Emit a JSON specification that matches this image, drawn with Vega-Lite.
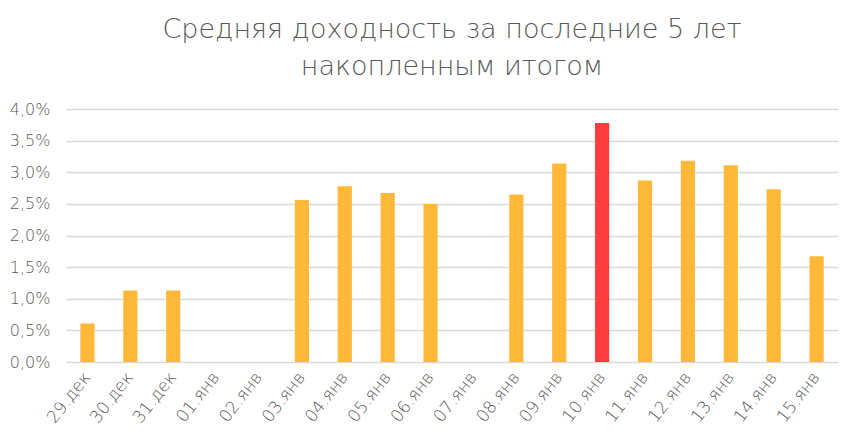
{
  "$schema": "https://vega.github.io/schema/vega-lite/v6.json",
  "width": 772,
  "height": 253,
  "autosize": {"type": "none"},
  "padding": {"left": 66, "top": 109, "right": 8, "bottom": 80},
  "background": "white",
  "title": {
    "text": ["Средняя доходность за последние 5 лет", "накопленным итогом"],
    "font": "DejaVu Sans",
    "fontSize": 27,
    "fontWeight": 200,
    "color": "#595959",
    "anchor": "middle",
    "lineHeight": 37,
    "offset": 20
  },
  "data": {
    "values": [
      {"date": "29.дек", "value": 0.0061, "hl": "n"},
      {"date": "30.дек", "value": 0.0113, "hl": "n"},
      {"date": "31.дек", "value": 0.0113, "hl": "n"},
      {"date": "01.янв", "value": null, "hl": "n"},
      {"date": "02.янв", "value": null, "hl": "n"},
      {"date": "03.янв", "value": 0.0256, "hl": "n"},
      {"date": "04.янв", "value": 0.0278, "hl": "n"},
      {"date": "05.янв", "value": 0.0267, "hl": "n"},
      {"date": "06.янв", "value": 0.0250, "hl": "n"},
      {"date": "07.янв", "value": null, "hl": "n"},
      {"date": "08.янв", "value": 0.0265, "hl": "n"},
      {"date": "09.янв", "value": 0.0314, "hl": "n"},
      {"date": "10.янв", "value": 0.0378, "hl": "y"},
      {"date": "11.янв", "value": 0.0287, "hl": "n"},
      {"date": "12.янв", "value": 0.0318, "hl": "n"},
      {"date": "13.янв", "value": 0.0311, "hl": "n"},
      {"date": "14.янв", "value": 0.0273, "hl": "n"},
      {"date": "15.янв", "value": 0.0167, "hl": "n"}
    ]
  },
  "mark": {"type": "bar"},
  "encoding": {
    "x": {
      "field": "date",
      "type": "nominal",
      "sort": null,
      "scale": {
        "domain": ["29.дек", "30.дек", "31.дек", "01.янв", "02.янв", "03.янв", "04.янв", "05.янв", "06.янв", "07.янв", "08.янв", "09.янв", "10.янв", "11.янв", "12.янв", "13.янв", "14.янв", "15.янв"],
        "paddingInner": 0.67,
        "paddingOuter": 0.335
      },
      "axis": {
        "title": null,
        "labelAngle": -52,
        "labelAlign": "right",
        "labelBaseline": "middle",
        "labelFont": "DejaVu Sans",
        "labelFontWeight": 200,
        "labelFontSize": 17,
        "labelColor": "#595959",
        "labelPadding": 12,
        "labelOverlap": false,
        "ticks": false,
        "domain": false,
        "grid": false
      }
    },
    "y": {
      "field": "value",
      "type": "quantitative",
      "scale": {"domain": [0, 0.04], "nice": false},
      "axis": {
        "title": null,
        "values": [0, 0.005, 0.01, 0.015, 0.02, 0.025, 0.03, 0.035, 0.04],
        "labelExpr": "replace(format(datum.value, '.1%'), '.', ',')",
        "labelFont": "DejaVu Sans",
        "labelFontWeight": 200,
        "labelFontSize": 16,
        "labelColor": "#595959",
        "labelPadding": 16,
        "ticks": false,
        "domain": false,
        "grid": true,
        "gridColor": "#d9d9d9",
        "gridWidth": 1.5
      }
    },
    "color": {
      "field": "hl",
      "type": "nominal",
      "scale": {"domain": ["n", "y"], "range": ["#FFB837", "#FF3B3F"]},
      "legend": null
    }
  },
  "config": {"view": {"stroke": null}}
}
